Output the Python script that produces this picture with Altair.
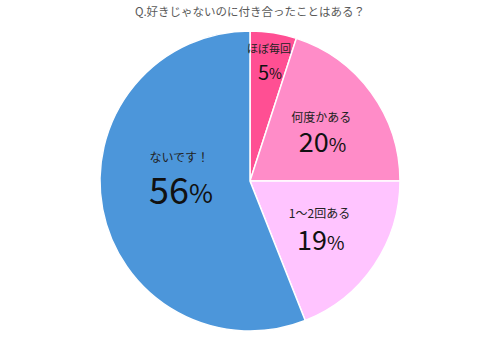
import altair as alt
import pandas as pd
import math

TITLE = "Q.好きじゃないのに付き合ったことはある？"
categories = ["ほぼ毎回", "何度かある", "1〜2回ある", "ないです！"]
values = [5, 20, 19, 56]
colors = ["#FF4F93", "#FF8CC8", "#FFC4FF", "#4C96DA"]

df = pd.DataFrame({
    "cat": categories,
    "val": values,
    "order": list(range(len(categories))),
    "num": [str(v) for v in values],
})

FONT = "Noto Sans CJK JP"
CX, CY, R = 250, 181, 150
tscale = alt.Scale(domain=[0, sum(values)], range=[0, 2 * math.pi])

base = alt.Chart(df).transform_window(
    v1="sum(val)", sort=[alt.SortField("order")], frame=[None, 0]
).transform_calculate(
    v0="datum.v1 - datum.val", mid="datum.v1 - datum.val / 2"
).encode(x=alt.value(CX), y=alt.value(CY))

pie = base.mark_arc(outerRadius=R, stroke="white", strokeWidth=1.5).encode(
    theta=alt.Theta("v0:Q", scale=tscale),
    theta2="v1:Q",
    color=alt.Color("cat:N", scale=alt.Scale(domain=categories, range=colors), legend=None),
)

# label settings per slice: radius, label size, number size, extra vertical shift, gap
spec = {
    "ほぼ毎回": (122, 11, 20, 1, 24),
    "何度かある": (88, 12, 27, 2, 26),
    "1〜2回ある": (84, 12, 27, 0, 28),
    "ないです！": (72, 12, 36, -19, 35),
}

layers = [pie]
for cat, (rad, ls, ns, extra, gap) in spec.items():
    f = base.transform_filter(alt.datum.cat == cat).encode(
        theta=alt.Theta("mid:Q", scale=tscale)
    )
    ps = round(ns * 0.72)
    wn = len(str(values[categories.index(cat)])) * ns * 0.56
    wp = ps * 0.8
    shift = (wn - wp) / 2
    top = extra - gap / 2
    bot = extra + gap / 2
    layers.append(
        f.mark_text(radius=rad, font=FONT, fontSize=ls, color="#222222",
                    baseline="middle", dy=top).encode(text="cat:N")
    )
    layers.append(
        f.mark_text(radius=rad, font=FONT, fontSize=ns, color="#111111", align="right",
                    baseline="middle", dx=shift, dy=bot).encode(text="num:N")
    )
    layers.append(
        f.mark_text(radius=rad, font=FONT, fontSize=ps, color="#111111", align="left",
                    baseline="middle", dx=shift, dy=bot + (ns - ps) * 0.18).encode(text=alt.value("%"))
    )

title = alt.Chart(pd.DataFrame({"t": [TITLE]})).mark_text(
    font=FONT, fontSize=11.5, color="#595959"
).encode(text="t:N", x=alt.value(CX), y=alt.value(13))
layers.append(title)

chart = alt.layer(*layers).properties(
    width=500, height=342, autosize="none", padding=0
).configure_view(stroke=None)

chart.save("out.html", embed_options={"renderer": "svg", "actions": False})
